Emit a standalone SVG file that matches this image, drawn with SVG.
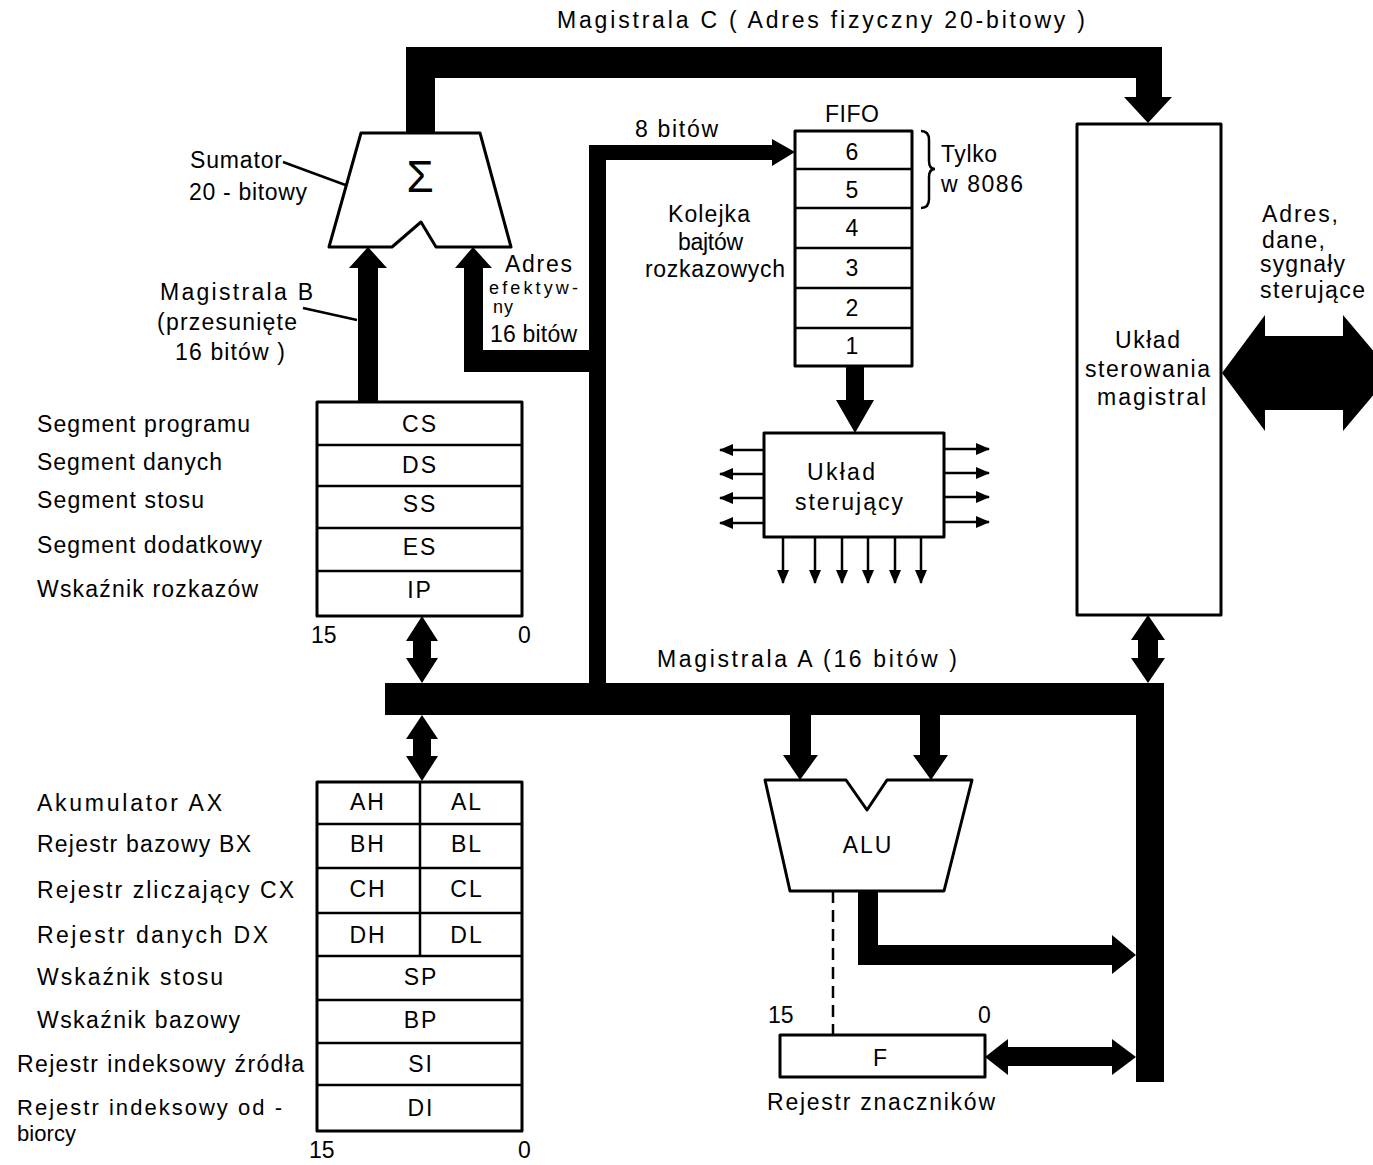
<svg xmlns="http://www.w3.org/2000/svg" width="1373" height="1165" viewBox="0 0 1373 1165">
<style>
.t{font-family:"Liberation Sans","DejaVu Sans",sans-serif;font-size:23px;fill:#000}
.s{font-size:18px}
.m{font-size:22px}
.c{text-anchor:middle;letter-spacing:2px}
.box{fill:#fff;stroke:#000;stroke-width:3;stroke-linejoin:round}
.ln{stroke:#000;stroke-width:2.5;fill:none}
.bus{fill:#000;stroke:none}
.sig{stroke:#000;stroke-width:2.5;fill:none;marker-end:url(#ah)}
</style>
<defs>
<marker id="ah" markerUnits="userSpaceOnUse" markerWidth="14" markerHeight="12" refX="13" refY="6" orient="auto">
<path d="M0,0 L14,6 L0,12 Z" fill="#000"/>
</marker>
</defs>
<rect width="1373" height="1165" fill="#fff"/>

<g id="connectors">
<!-- Magistrala C -->
<polygon class="bus" points="406,134 406,47 1162,47 1162,97 1172,97 1148,123 1124,97 1136,97 1136,78 435,78 435,134"/>
<!-- 8 bit / adres efektywny path -->
<polygon class="bus" points="589,683 589,372 464,372 464,268 455,268 473,247 492,268 483,268 483,350 589,350 589,145 772,145 772,139 795,152 772,166 772,160 606,160 606,683"/>
<!-- Magistrala B -->
<polygon class="bus" points="358,402 358,268 349,268 368,247 387,268 378,268 378,402"/>
<!-- Magistrala A -->
<polygon class="bus" points="385,683 1164,683 1164,1082 1136,1082 1136,715 385,715"/>
<!-- segment regs <-> bus A -->
<polygon class="bus" points="422,616 438,641 431,641 431,658 438,658 422,683 406,658 413,658 413,641 406,641"/>
<!-- bus A <-> general regs -->
<polygon class="bus" points="422,715 438,739 431,739 431,756 438,756 422,781 406,756 413,756 413,739 406,739"/>
<!-- bus control <-> bus A -->
<polygon class="bus" points="1148,615 1165,640 1158,640 1158,658 1165,658 1148,683 1131,658 1138,658 1138,640 1131,640"/>
<!-- external double arrow -->
<polygon class="bus" points="1222,373 1265,315 1265,336 1343,336 1343,315 1392,373 1343,431 1343,410 1265,410 1265,431"/>
<!-- FIFO -> control -->
<polygon class="bus" points="846,366 864,366 864,400 874,400 855,433 836,400 846,400"/>
<!-- bus A -> ALU -->
<polygon class="bus" points="790,715 811,715 811,755 818,755 800,780 783,755 790,755"/>
<polygon class="bus" points="920,715 940,715 940,755 948,755 931,780 913,755 920,755"/>
<!-- ALU output -> bus -->
<polygon class="bus" points="858,890 878,890 878,945 1112,945 1112,935 1136,955 1112,974 1112,965 858,965"/>
<!-- F <-> bus -->
<polygon class="bus" points="985,1057 1008,1039 1008,1047 1112,1047 1112,1039 1136,1057 1112,1075 1112,1066 1008,1066 1008,1075"/>
<!-- ALU - F dashed -->
<line x1="833" y1="891" x2="833" y2="1035" stroke="#000" stroke-width="2.5" stroke-dasharray="12 7"/>
<!-- control signals -->
<line class="sig" x1="764" y1="450" x2="720" y2="450"/>
<line class="sig" x1="764" y1="474" x2="720" y2="474"/>
<line class="sig" x1="764" y1="498" x2="720" y2="498"/>
<line class="sig" x1="764" y1="523" x2="720" y2="523"/>
<line class="sig" x1="944" y1="449" x2="989" y2="449"/>
<line class="sig" x1="944" y1="473" x2="989" y2="473"/>
<line class="sig" x1="944" y1="497" x2="989" y2="497"/>
<line class="sig" x1="944" y1="522" x2="989" y2="522"/>
<line class="sig" x1="783" y1="537" x2="783" y2="583"/>
<line class="sig" x1="815" y1="537" x2="815" y2="583"/>
<line class="sig" x1="842" y1="537" x2="842" y2="583"/>
<line class="sig" x1="868" y1="537" x2="868" y2="583"/>
<line class="sig" x1="895" y1="537" x2="895" y2="583"/>
<line class="sig" x1="921" y1="537" x2="921" y2="583"/>
<!-- leader lines -->
<line class="ln" x1="283" y1="162" x2="359" y2="190" stroke-width="2"/>
<line class="ln" x1="303" y1="308" x2="357" y2="320" stroke-width="2"/>
</g>

<g id="sumator">
<polygon class="box" points="361,133 480,133 511,247 436,247 421,222 392,247 329,247"/>
<text class="t" x="420" y="192" text-anchor="middle" style="font-size:44px">Σ</text>
<text class="t" x="190" y="168" textLength="92" lengthAdjust="spacing">Sumator</text>
<text class="t" x="189" y="200" textLength="118" lengthAdjust="spacing">20 - bitowy</text>
</g>

<g id="fifo">
<rect class="box" x="795" y="131" width="117" height="235"/>
<path class="ln" d="M795,169H912M795,208H912M795,248H912M795,288H912M795,328H912"/>
<text class="t c" x="853" y="160">6</text>
<text class="t c" x="853" y="198">5</text>
<text class="t c" x="853" y="236">4</text>
<text class="t c" x="853" y="276">3</text>
<text class="t c" x="853" y="316">2</text>
<text class="t c" x="853" y="354">1</text>
<text class="t" x="825" y="122" textLength="54" lengthAdjust="spacing">FIFO</text>
<path class="ln" stroke-width="2" d="M921,131 Q929,131 929,140 V161 Q929,169 935,169 Q929,169 929,177 V199 Q929,208 921,208"/>
<text class="t" x="941" y="162" textLength="56" lengthAdjust="spacing">Tylko</text>
<text class="t" x="941" y="192" textLength="82" lengthAdjust="spacing">w 8086</text>
<text class="t" x="668" y="222" textLength="82" lengthAdjust="spacing">Kolejka</text>
<text class="t" x="678" y="250" textLength="65" lengthAdjust="spacing">bajtów</text>
<text class="t" x="645" y="277" textLength="140" lengthAdjust="spacing">rozkazowych</text>
</g>

<g id="uklad-sterujacy">
<rect class="box" x="764" y="433" width="180" height="104"/>
<text class="t" x="807" y="480" textLength="68" lengthAdjust="spacing">Układ</text>
<text class="t" x="795" y="510" textLength="108" lengthAdjust="spacing">sterujący</text>
</g>

<g id="uklad-sterowania-magistral">
<rect class="box" x="1077" y="124" width="144" height="491"/>
<text class="t" x="1115" y="348" textLength="65" lengthAdjust="spacing">Układ</text>
<text class="t" x="1085" y="377" textLength="125" lengthAdjust="spacing">sterowania</text>
<text class="t" x="1097" y="405" textLength="109" lengthAdjust="spacing">magistral</text>
<text class="t" x="1262" y="222" textLength="76" lengthAdjust="spacing">Adres,</text>
<text class="t" x="1262" y="248" textLength="63" lengthAdjust="spacing">dane,</text>
<text class="t" x="1260" y="272" textLength="85" lengthAdjust="spacing">sygnały</text>
<text class="t" x="1260" y="298" textLength="105" lengthAdjust="spacing">sterujące</text>
</g>

<g id="segment-regs">
<rect class="box" x="317" y="402" width="205" height="214"/>
<path class="ln" d="M317,445H522M317,486H522M317,528H522M317,571H522"/>
<text class="t c" x="420" y="432">CS</text>
<text class="t c" x="420" y="473">DS</text>
<text class="t c" x="420" y="512">SS</text>
<text class="t c" x="420" y="555">ES</text>
<text class="t c" x="420" y="598">IP</text>
<text class="t" x="37" y="432" textLength="213" lengthAdjust="spacing">Segment programu</text>
<text class="t" x="37" y="470" textLength="185" lengthAdjust="spacing">Segment danych</text>
<text class="t" x="37" y="508" textLength="167" lengthAdjust="spacing">Segment stosu</text>
<text class="t" x="37" y="553" textLength="225" lengthAdjust="spacing">Segment dodatkowy</text>
<text class="t" x="37" y="597" textLength="221" lengthAdjust="spacing">Wskaźnik rozkazów</text>
<text class="t" x="311" y="643">15</text>
<text class="t" x="518" y="643">0</text>
</g>

<g id="general-regs">
<rect class="box" x="317" y="782" width="205" height="349"/>
<path class="ln" d="M317,824H522M317,868H522M317,913H522M317,956H522M317,1000H522M317,1043H522M317,1085H522M420,782V956"/>
<text class="t c" x="368" y="810">AH</text>
<text class="t c" x="467" y="810">AL</text>
<text class="t c" x="368" y="852">BH</text>
<text class="t c" x="467" y="852">BL</text>
<text class="t c" x="368" y="897">CH</text>
<text class="t c" x="467" y="897">CL</text>
<text class="t c" x="368" y="943">DH</text>
<text class="t c" x="467" y="943">DL</text>
<text class="t c" x="421" y="985">SP</text>
<text class="t c" x="421" y="1028">BP</text>
<text class="t c" x="421" y="1072">SI</text>
<text class="t c" x="421" y="1116">DI</text>
<text class="t" x="37" y="811" textLength="185" lengthAdjust="spacing">Akumulator  AX</text>
<text class="t" x="37" y="852" textLength="214" lengthAdjust="spacing">Rejestr bazowy BX</text>
<text class="t" x="37" y="898" textLength="257" lengthAdjust="spacing">Rejestr zliczający CX</text>
<text class="t" x="37" y="943" textLength="231" lengthAdjust="spacing">Rejestr danych  DX</text>
<text class="t" x="37" y="985" textLength="186" lengthAdjust="spacing">Wskaźnik stosu</text>
<text class="t" x="37" y="1028" textLength="203" lengthAdjust="spacing">Wskaźnik bazowy</text>
<text class="t" x="17" y="1072" textLength="287" lengthAdjust="spacing">Rejestr indeksowy źródła</text>
<text class="t m" x="17" y="1115" textLength="265" lengthAdjust="spacing">Rejestr indeksowy od -</text>
<text class="t m" x="17" y="1141" textLength="59" lengthAdjust="spacing">biorcy</text>
<text class="t" x="309" y="1158">15</text>
<text class="t" x="518" y="1158">0</text>
</g>

<g id="alu">
<polygon class="box" points="765,780 846,780 867,810 887,780 972,780 944,891 790,891"/>
<text class="t c" x="868" y="853" letter-spacing="4">ALU</text>
</g>

<g id="rejestr-znacznikow">
<rect class="box" x="780" y="1035" width="205" height="42"/>
<text class="t c" x="881" y="1066">F</text>
<text class="t" x="768" y="1023">15</text>
<text class="t" x="978" y="1023">0</text>
<text class="t" x="767" y="1110" textLength="228" lengthAdjust="spacing">Rejestr znaczników</text>
</g>

<g id="labels">
<text class="t" x="557" y="28" textLength="528" lengthAdjust="spacing">Magistrala C ( Adres fizyczny  20-bitowy )</text>
<text class="t" x="635" y="137" textLength="83" lengthAdjust="spacing">8 bitów</text>
<text class="t" x="160" y="300" textLength="153" lengthAdjust="spacing">Magistrala B</text>
<text class="t" x="157" y="330" textLength="140" lengthAdjust="spacing">(przesunięte</text>
<text class="t" x="175" y="360" textLength="110" lengthAdjust="spacing">16 bitów )</text>
<text class="t" x="505" y="272" textLength="67" lengthAdjust="spacing">Adres</text>
<text class="t s" x="489" y="294" textLength="89" lengthAdjust="spacing">efektyw-</text>
<text class="t s" x="493" y="313" textLength="20" lengthAdjust="spacing">ny</text>
<text class="t" x="490" y="342" textLength="87" lengthAdjust="spacing">16 bitów</text>
<text class="t" x="657" y="667" textLength="300" lengthAdjust="spacing">Magistrala A (16 bitów )</text>
</g>
</svg>
